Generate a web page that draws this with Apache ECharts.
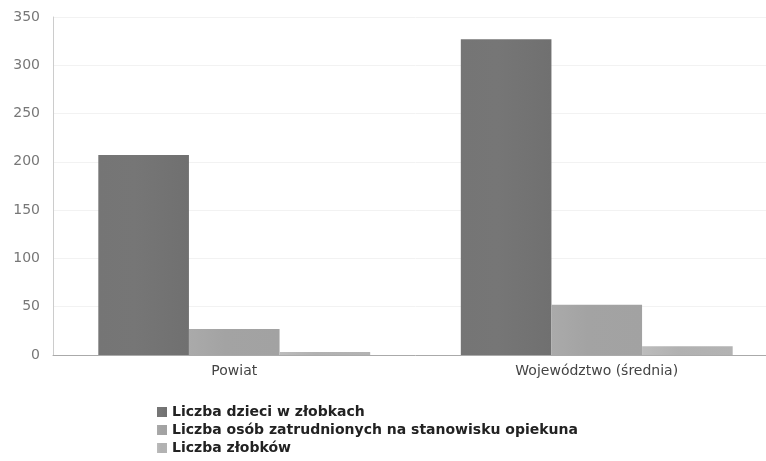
<!DOCTYPE html>
<html>
<head>
<meta charset="utf-8">
<script src="https://cdn.jsdelivr.net/npm/echarts@6/dist/echarts.min.js"></script>
<style>
  html, body { margin: 0; padding: 0; background: #fff; overflow: hidden; }
  #main { width: 778px; height: 461px; }
</style>
</head>
<body>
<div id="main"></div>
<script>
var categories = ['Powiat', 'Województwo (średnia)'];
var seriesNames = [
    'Liczba dzieci w złobkach',
    'Liczba osób zatrudnionych na stanowisku opiekuna',
    'Liczba złobków'
];
var dzieci = [207, 327];
var opiekunowie = [27, 52];
var zlobki = [3, 9];
var yTicks = [0, 50, 100, 150, 200, 250, 300, 350];

var colors = ['#6b6b6b', '#9b9b9b', '#ababab'];

var myChart = echarts.init(document.getElementById('main'));

function barSeries(name, data, color) {
    return {
        name: name,
        type: 'bar',
        data: data,
        barGap: '0%',
        barCategoryGap: '25%',
        itemStyle: {
            color: new echarts.graphic.LinearGradient(0, 0, 1, 0, [
                { offset: 0, color: echarts.color.lift(color, -0.1) },
                { offset: 0.4, color: echarts.color.lift(color, 0.08) },
                { offset: 1, color: echarts.color.lift(color, -0.05) }
            ])
        }
    };
}

var option = {
    backgroundColor: '#fff',
    animation: false,
    grid: {
        left: 53,
        right: 0,
        top: 17,
        bottom: 106
    },
    legend: {
        orient: 'vertical',
        left: 152,
        top: 399,
        itemWidth: 10,
        itemHeight: 10,
        itemGap: 2,
        icon: 'rect',
        textStyle: {
            color: '#222',
            fontFamily: 'DejaVu Sans',
            fontWeight: 'bold',
            fontSize: 14,
            lineHeight: 16
        },
        data: seriesNames
    },
    xAxis: {
        type: 'category',
        data: categories,
        axisLine: { lineStyle: { color: '#aaa' } },
        axisTick: { show: false },
        axisLabel: {
            color: '#444',
            fontFamily: 'DejaVu Sans',
            fontSize: 14,
            margin: 9
        }
    },
    yAxis: {
        type: 'value',
        min: 0,
        max: yTicks[yTicks.length - 1],
        interval: 50,
        axisLine: { show: true, lineStyle: { color: '#ccc' } },
        axisTick: { show: false },
        axisLabel: {
            color: '#777',
            fontFamily: 'DejaVu Sans',
            fontSize: 14,
            margin: 13
        },
        splitLine: { lineStyle: { color: '#f2f2f2' } }
    },
    series: [
        barSeries(seriesNames[0], dzieci, colors[0]),
        barSeries(seriesNames[1], opiekunowie, colors[1]),
        barSeries(seriesNames[2], zlobki, colors[2])
    ]
};

myChart.setOption(option);
</script>
</body>
</html>
